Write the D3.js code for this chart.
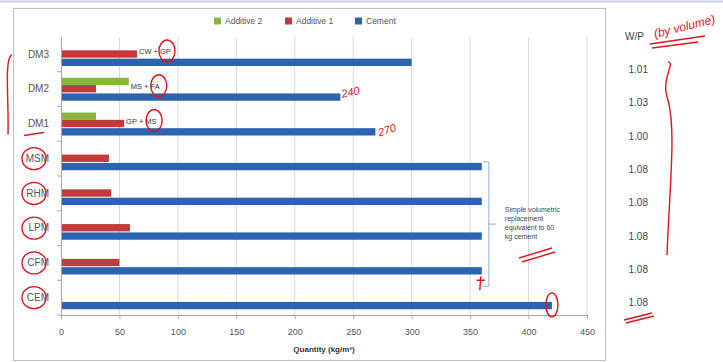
<!DOCTYPE html>
<html>
<head>
<meta charset="utf-8">
<script src="https://cdn.jsdelivr.net/npm/d3@7"></script>
<style>
  body { margin: 0; background: #fff; }
  text { font-family: "Liberation Sans", Arial, sans-serif; }
</style>
</head>
<body>
<div id="app"></div>
<script>
// data (top row first)
const categories = ["DM3", "DM2", "DM1", "MSM", "RHM", "LPM", "CFM", "CEM"];
const seriesNames = ["Additive 2", "Additive 1", "Cement"];
const additive2 = [0, 58, 30, 0, 0, 0, 0, 0];
const additive1 = [65, 30, 54, 41, 43, 59, 50, 0];
const cement = [300, 239, 269, 360, 360, 360, 360, 420];
const mixLabels = ["CW + GP", "MS + FA", "GP + MS", "", "", "", "", ""];
const wpValues = ["1.01", "1.03", "1.00", "1.08", "1.08", "1.08", "1.08", "1.08"];
const xTicks = [0, 50, 100, 150, 200, 250, 300, 350, 400, 450];

const width = 723, height = 362;
const plot = {left: 61, right: 587, top: 37, bottom: 315};
const colors = {"Additive 2": "#86b83f", "Additive 1": "#c23a3a", "Cement": "#2c64b0"};
const ink = "#e0141e";

const svg = d3.select("#app").append("svg")
    .attr("width", width)
    .attr("height", height);

// chart frame
svg.append("rect")
    .attr("x", 13.5).attr("y", 8.5)
    .attr("width", 592).attr("height", 352)
    .attr("fill", "#fff").attr("stroke", "#bfbfbf");
svg.append("line")
    .attr("x1", 0).attr("x2", width).attr("y1", 1.5).attr("y2", 1.5)
    .attr("stroke", "#c9d3e0").attr("stroke-width", 2);

const x = d3.scaleLinear().domain([0, 450]).range([plot.left, plot.right]);
const y = d3.scaleBand().domain(categories).range([plot.top, plot.bottom]);
const sub = d3.scaleBand().domain(seriesNames).range([6, 28]);

// gridlines
svg.append("g")
    .selectAll("line")
    .data(xTicks.slice(1))
    .enter().append("line")
        .attr("x1", d => x(d)).attr("x2", d => x(d))
        .attr("y1", plot.top).attr("y2", plot.bottom)
        .attr("stroke", "#d9d9d9");

// bars
const rows = categories.map((c, i) => ({
    cat: c,
    values: [
        {name: "Additive 2", v: additive2[i]},
        {name: "Additive 1", v: additive1[i]},
        {name: "Cement", v: cement[i]}
    ]
}));

svg.append("g")
    .selectAll("g")
    .data(rows)
    .enter().append("g")
        .attr("transform", d => "translate(0," + y(d.cat) + ")")
    .selectAll("rect")
    .data(d => d.values.filter(v => v.v > 0))
    .enter().append("rect")
        .attr("x", x(0))
        .attr("y", d => sub(d.name) + (d.name === "Cement" ? 1 : 0))
        .attr("width", d => x(d.v) - x(0))
        .attr("height", sub.bandwidth())
        .attr("fill", d => colors[d.name]);

// y axis
const yAxis = svg.append("g")
    .attr("transform", "translate(" + plot.left + ",0)")
    .call(d3.axisLeft(y).tickSize(0).tickPadding(12));
yAxis.select(".domain").attr("stroke", "#a6a6a6");
yAxis.selectAll("text").attr("fill", "#555").style("font-size", "10px");
svg.append("g")
    .selectAll("line")
    .data(categories)
    .enter().append("line")
        .attr("x1", plot.left - 4).attr("x2", plot.left)
        .attr("y1", d => y(d) + y.bandwidth()).attr("y2", d => y(d) + y.bandwidth())
        .attr("stroke", "#a6a6a6");

// x axis
const xAxis = svg.append("g")
    .attr("transform", "translate(0," + plot.bottom + ")")
    .call(d3.axisBottom(x).tickValues(xTicks).tickSize(4).tickPadding(10));
xAxis.select(".domain").attr("stroke", "#a6a6a6");
xAxis.selectAll("line").attr("stroke", "#a6a6a6");
xAxis.selectAll("text").attr("fill", "#555").style("font-size", "9px");

svg.append("text")
    .attr("x", (plot.left + plot.right) / 2).attr("y", 352)
    .attr("text-anchor", "middle")
    .style("font-size", "8px").style("font-weight", "bold").attr("fill", "#333")
    .text("Quantity (kg/m³)");

// legend
const legend = svg.append("g")
    .selectAll("g")
    .data(seriesNames)
    .enter().append("g")
        .attr("transform", (d, i) => "translate(" + [214, 285, 355][i] + ",21)");
legend.append("rect")
    .attr("x", 0).attr("y", -3.5).attr("width", 7).attr("height", 7)
    .attr("fill", d => colors[d]);
legend.append("text")
    .attr("x", 11).attr("y", 3)
    .style("font-size", "8.5px").attr("fill", "#555")
    .text(d => d);

// mix labels at the end of the longest additive bar
svg.append("g")
    .selectAll("text")
    .data(rows.map((r, i) => ({cat: r.cat, label: mixLabels[i], v: Math.max(additive1[i], additive2[i])})).filter(d => d.label))
    .enter().append("text")
        .attr("x", d => x(d.v) + 2)
        .attr("y", d => y(d.cat) + 17)
        .style("font-size", "7.5px").attr("fill", "#333")
        .text(d => d.label);

// bracket for the simple volumetric replacement mixes
const bx = x(360) + 7;
const bTop = y("MSM") + sub("Cement");
const bBot = y("CFM") + y.bandwidth() + 6;
const bMid = (bTop + bBot) / 2;
svg.append("path")
    .attr("d", `M${bx - 6},${bTop}H${bx}V${bBot}H${bx - 6}M${bx},${bMid}H${bx + 7}`)
    .attr("fill", "none").attr("stroke", "#8fb3d9");
svg.append("text")
    .attr("x", bx + 16).attr("y", bMid - 12)
    .style("font-size", "7px").attr("fill", "#444")
    .selectAll("tspan")
    .data(["Simple volumetric", "replacement", "equivalent to 60", "kg cement"])
    .enter().append("tspan")
        .attr("x", bx + 16).attr("dy", (d, i) => i ? 9 : 0)
        .text(d => d);

// W/P column
svg.append("text")
    .attr("x", 625).attr("y", 40)
    .style("font-size", "10px").attr("fill", "#444")
    .text("W/P");
svg.append("g")
    .selectAll("text")
    .data(wpValues)
    .enter().append("text")
        .attr("x", 648)
        .attr("y", (d, i) => 73 + i * 33.3)
        .attr("text-anchor", "end")
        .style("font-size", "10px").attr("fill", "#444")
        .text(d => d);

// handwritten red notes
const notes = svg.append("g").attr("fill", "none").attr("stroke", ink).attr("stroke-width", 1.4);
svg.append("text")
    .attr("transform", "translate(655,38) rotate(-14)")
    .style("font-size", "12px").style("font-style", "italic").attr("fill", ink)
    .text("(by volume)");
notes.append("path").attr("d", "M650,44 L705,36 M652,48 L698,42");
svg.append("text")
    .attr("transform", `translate(${x(239) + 2},${y("DM2") + 26}) rotate(-12)`)
    .style("font-size", "11px").style("font-style", "italic").attr("fill", ink)
    .text("240");
svg.append("text")
    .attr("transform", `translate(${x(269) + 4},${y("DM1") + 30}) rotate(-18)`)
    .style("font-size", "11px").style("font-style", "italic").attr("fill", ink)
    .text("270");

// circles around the single-additive mix names
categories.slice(3).forEach(c => {
    notes.append("ellipse")
        .attr("cx", 34).attr("cy", y(c) + y.bandwidth() / 2)
        .attr("rx", 12).attr("ry", 11);
});
// circles around mix labels
rows.slice(0, 3).forEach((r, i) => {
    const v = Math.max(additive1[i], additive2[i]);
    notes.append("ellipse")
        .attr("cx", x(v) + 30).attr("cy", y(r.cat) + 14)
        .attr("rx", 8).attr("ry", 11);
});
notes.append("ellipse")
    .attr("cx", x(420)).attr("cy", y("CEM") + sub("Cement") + 4)
    .attr("rx", 6).attr("ry", 12);
// braces
notes.append("path").attr("d", `M12,${y("DM3") + 18} C4,${y("DM3") + 20} 9,${y("DM1") - 5} 8,${y("DM1") + 28}`);
notes.append("path").attr("d", `M24,${y("DM1") + 29} L44,${y("DM1") + 26}`);
notes.append("path").attr("d", "M668,62 C676,62 660,80 668,100 C676,130 670,180 667,255");
notes.append("path").attr("d", "M519,258 L552,248 M522,262 L555,252");
notes.append("path").attr("d", "M624,320 L652,313 M626,323 L654,316");
notes.append("path").attr("d", `M${x(360) - 2},${bBot + 4} L${x(360) - 1},${bBot - 10} M${x(360) - 5},${bBot - 6} L${x(360) + 3},${bBot - 6}`);
</script>
</body>
</html>
